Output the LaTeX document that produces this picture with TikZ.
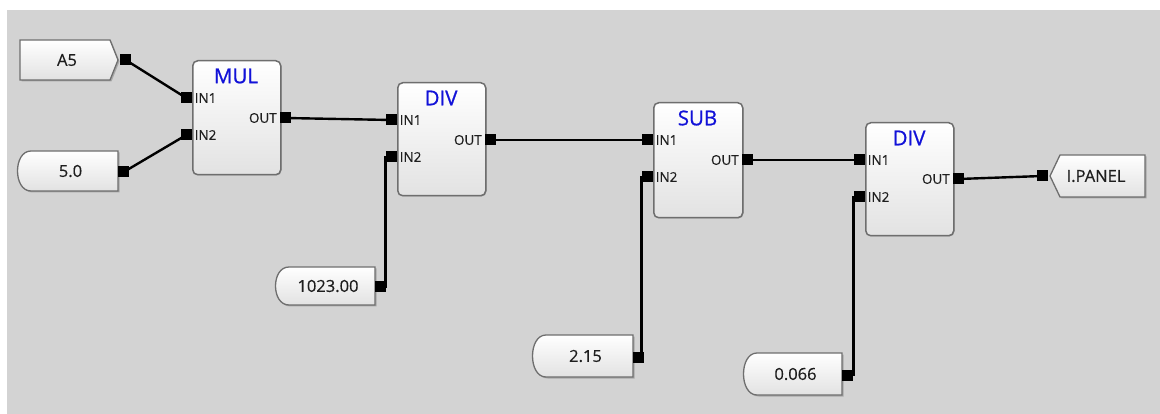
\documentclass[tikz,border=0pt]{standalone}
\usepackage{fontspec}
\setmainfont{Open Sans}
\newfontfamily\ttlface{Open Sans}[FakeBold=0.8]
\newfontfamily\lblface{Open Sans}[FakeBold=0.4]
\usetikzlibrary{calc}
\definecolor{bg}{HTML}{D3D3D3}
\definecolor{edge}{HTML}{6E6E6E}
\definecolor{ttl}{HTML}{1212D8}
\definecolor{shade}{HTML}{E2E2E2}
\definecolor{shadowc}{HTML}{A8A8A8}
\definecolor{txt}{HTML}{1E1E1E}
\tikzset{
 blockshape/.style={draw=edge, line width=1.5pt, rounded corners=5pt, top color=white, bottom color=shade, inner sep=0pt},
 tagshape/.style={draw=edge, line width=1.3pt, top color=white, bottom color=shade},
 portbox/.style={fill=black, draw=none, minimum width=11pt, minimum height=11pt, inner sep=0pt},
 wire/.style={line width=2.4pt, black},
 ttlfont/.style={text=ttl, font=\ttlface\fontsize{20.5}{22}\selectfont, inner sep=0pt},
 plabel/.style={text=txt, font=\lblface\fontsize{13.5}{14}\selectfont, inner sep=0pt},
 cfont/.style={text=txt, font=\lblface\fontsize{16.5}{18}\selectfont, inner sep=0pt}
}
% function block: name, left, top, right, bottom, title, in1 y, in2 y, out y
\newcommand{\fbk}[9]{
 \fill[shadowc, rounded corners=5pt] (#2+1.5,#3+1.5) rectangle (#4+1.5,#5+1.5);
 \node[blockshape, minimum width=#4-#2, minimum height=#5-#3, anchor=north west] (#1) at (#2,#3) {};
 \node[ttlfont] (#1-t) at ({(#2+#4)/2},#3+16) {#6};
 \node[portbox, anchor=east] (#1-in1) at (#2,#7) {};
 \node[portbox, anchor=east] (#1-in2) at (#2,#8) {};
 \node[portbox, anchor=west] (#1-out) at (#4,#9) {};
 \node[plabel, anchor=west] (#1-l1) at (#2+2.5,#7) {IN1};
 \node[plabel, anchor=west] (#1-l2) at (#2+2.5,#8) {IN2};
 \node[plabel, anchor=east] (#1-lo) at (#4-3,#9) {OUT};
}
% constant: name, left, top, right, bottom, text
\newcommand{\cst}[6]{
 \fill[shadowc] (#4+1.5,#3+1.5) -- (#4+1.5,#5+1.5) -- (#2+15.5,#5+1.5) .. controls (#2-2.5,#5+1.5) and (#2-2.5,#3+1.5) .. (#2+15.5,#3+1.5) -- cycle;
 \draw[tagshape] (#4,#3) -- (#4,#5) -- (#2+14,#5) .. controls (#2-4,#5) and (#2-4,#3) .. (#2+14,#3) -- cycle;
 \node[cfont] (#1) at ({(#2+#4)/2+3},{(#3+#5)/2}) {#6};
 \node[portbox, anchor=west] (#1-p) at (#4,{(#3+#5)/2+1}) {};
}
\begin{document}
\begin{tikzpicture}[x=1pt,y=-1pt]
\useasboundingbox (0,0) rectangle (1160,414);
\fill[bg] (7,10) rectangle (1160,414);

% input tag A5
\fill[shadowc] (21.5,41.5) -- (111.5,41.5) -- (119.5,61.5) -- (111.5,81.5) -- (21.5,81.5) -- cycle;
\draw[tagshape] (20,40) -- (110,40) -- (118,60) -- (110,80) -- (20,80) -- cycle;
\node[cfont] (a5) at (67,60) {A5};
\node[portbox, anchor=west] (a5-p) at (120,60) {};

% output tag I.PANEL
\fill[shadowc] (1061.5,156.5) -- (1146.5,156.5) -- (1146.5,198.5) -- (1061.5,198.5) -- (1051.5,177.5) -- cycle;
\draw[tagshape] (1060,155) -- (1145,155) -- (1145,197) -- (1060,197) -- (1050,176) -- cycle;
\node[cfont] (ipanel) at (1096,176) {I.PANEL};
\node[portbox, anchor=east] (ipanel-p) at (1048,176) {};

\cst{k50}{17}{151}{118}{191}{5.0}
\cst{k1023}{275}{267}{375}{305}{1023.00}
\cst{k215}{532}{335}{633}{377}{2.15}
\cst{k0066}{743}{353}{842}{395}{0.066}

\fbk{mul}{192}{60}{280}{174}{MUL}{98}{135}{118}
\fbk{diva}{397}{82}{485}{195}{DIV}{120}{157}{140}
\fbk{sub}{653}{102}{742}{217}{SUB}{140}{177}{160}
\fbk{divb}{865}{122}{953}{235}{DIV}{160}{197}{179}

% wires
\draw[wire] (a5-p.center) -- (mul-in1.center);
\draw[wire] (k50-p.center) -- (mul-in2.center);
\draw[wire] (mul-out.center) -- (diva-in1.center);
\draw[wire] (k1023-p.center) -| (diva-in2.west) -- (diva-in2.center);
\draw[wire] (diva-out.center) -- (sub-in1.center);
\draw[wire] (k215-p.center) -| (sub-in2.west) -- (sub-in2.center);
\draw[wire] (sub-out.center) -- (divb-in1.center);
\draw[wire] (k0066-p.center) -| (divb-in2.west) -- (divb-in2.center);
\draw[wire] (divb-out.center) -- (ipanel-p.center);
\end{tikzpicture}
\end{document}
